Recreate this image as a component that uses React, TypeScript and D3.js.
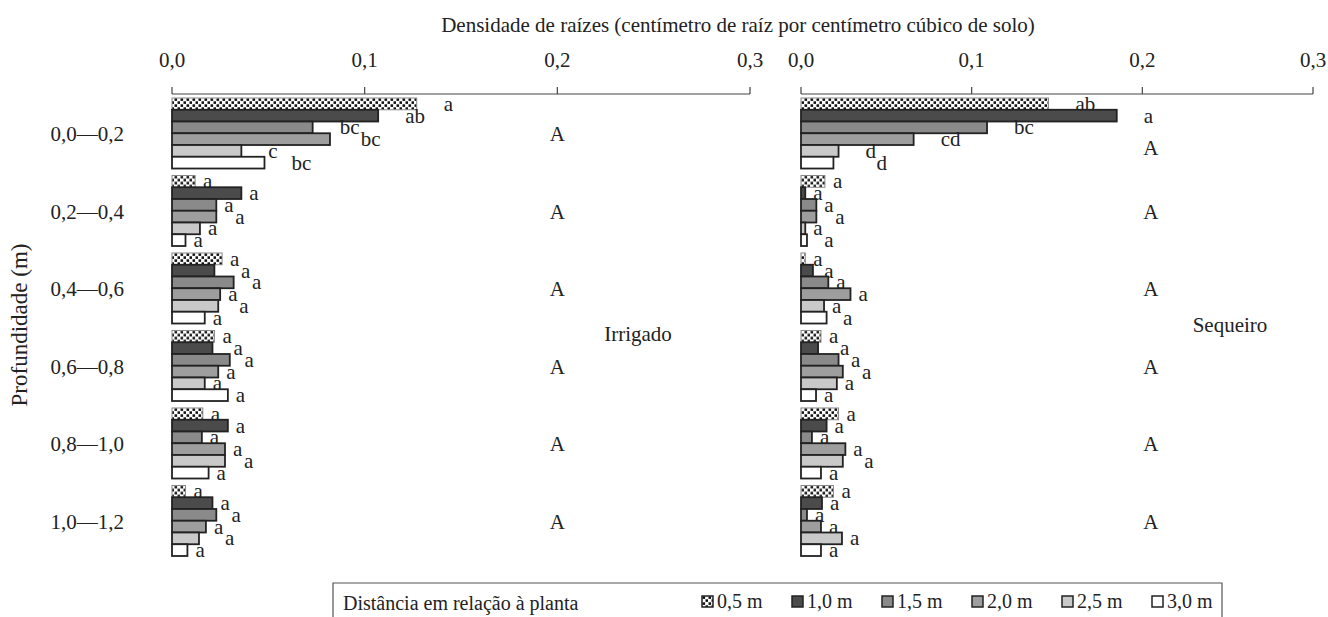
import * as d3 from "d3";
import React from "react";

const depths = ["0,0—0,2", "0,2—0,4", "0,4—0,6", "0,6—0,8", "0,8—1,0", "1,0—1,2"];
const distances = ["0,5 m", "1,0 m", "1,5 m", "2,0 m", "2,5 m", "3,0 m"];
const xTicks = [0, 0.1, 0.2, 0.3];

// rows = depth, columns = distance from plant
const irrigado = [
  [0.127, 0.107, 0.073, 0.082, 0.036, 0.048],
  [0.012, 0.036, 0.023, 0.023, 0.0145, 0.007],
  [0.026, 0.022, 0.032, 0.025, 0.024, 0.017],
  [0.022, 0.021, 0.030, 0.024, 0.017, 0.029],
  [0.016, 0.029, 0.0155, 0.0275, 0.0275, 0.019],
  [0.007, 0.021, 0.023, 0.0176, 0.014, 0.008],
];
const sequeiro = [
  [0.145, 0.185, 0.109, 0.066, 0.022, 0.019],
  [0.014, 0.0025, 0.009, 0.009, 0.0025, 0.0035],
  [0.0025, 0.007, 0.016, 0.029, 0.0135, 0.015],
  [0.0117, 0.010, 0.022, 0.0245, 0.021, 0.0088],
  [0.022, 0.015, 0.0064, 0.026, 0.0245, 0.0117],
  [0.019, 0.0123, 0.0035, 0.0117, 0.024, 0.0117],
];
const irrigadoLetters = [
  ["a", "ab", "bc", "bc", "c", "bc"],
  ["a", "a", "a", "a", "a", "a"],
  ["a", "a", "a", "a", "a", "a"],
  ["a", "a", "a", "a", "a", "a"],
  ["a", "a", "a", "a", "a", "a"],
  ["a", "a", "a", "a", "a", "a"],
];
const sequeiroLetters = [
  ["ab", "a", "bc", "cd", "d", "d"],
  ["a", "a", "a", "a", "a", "a"],
  ["a", "a", "a", "a", "a", "a"],
  ["a", "a", "a", "a", "a", "a"],
  ["a", "a", "a", "a", "a", "a"],
  ["a", "a", "a", "a", "a", "a"],
];
const depthLetters = ["A", "A", "A", "A", "A", "A"];

const fills = ["url(#dots)", "#4b4b4b", "#8a8a8a", "#9e9e9e", "#c9c9c9", "#ffffff"];
const FONT = "'Liberation Serif', 'Times New Roman', serif";
const FS = 21;

const yBand = d3.scaleBand<string>().domain(depths).range([98, 556]).paddingInner(0.09);
const yInner = d3.scaleBand<string>().domain(distances).range([0, yBand.bandwidth()]);

// rough width of a letter label, so stacked labels can be staggered
const labelWidth = (s: string) => s.length * 10 + 1;

interface PanelProps {
  values: number[][]
  letters: string[][]
  x0: number
  x1: number
  name: string
  nameX: number
  nameY: number
  bigX: number
  firstBigDy: number
}

const Panel: React.FC<PanelProps> = ({ values, letters, x0, x1, name, nameX, nameY, bigX, firstBigDy }) => {
  const x = d3.scaleLinear().domain([0, 0.3]).range([x0, x1]);
  const axisY = 94;
  return (
    <g>
      <line x1={x(0)} x2={x(0.3)} y1={axisY} y2={axisY} stroke="#444" strokeWidth={1.2} />
      {xTicks.map(t => (
        <g key={t}>
          <line x1={x(t)} x2={x(t)} y1={axisY} y2={axisY - 7} stroke="#444" strokeWidth={1.2} />
          <text x={x(t)} y={67} textAnchor="middle" fontSize={FS}>{d3.format(".1f")(t).replace(".", ",")}</text>
        </g>
      ))}
      {depths.map((dep, gi) => {
        // stagger labels so that neighbours don't sit on top of each other
        const lx: number[] = [];
        distances.forEach((_, i) => {
          let cx = x(values[gi][i]) + (gi === 0 ? 27 : 8);
          if (i > 0) {
            const prev = lx[i - 1];
            const w = labelWidth(letters[gi][i - 1]);
            const wc = labelWidth(letters[gi][i]);
            if (cx < prev + w && cx + wc > prev) cx = prev + w;
          }
          lx.push(cx);
        });
        return (
          <g key={dep} transform={`translate(0, ${yBand(dep)})`}>
            {distances.map((dist, i) => {
              const v = values[gi][i];
              const y = yInner(dist) as number;
              const h = yInner.bandwidth();
              return (
                <g key={dist}>
                  <rect
                    x={x(0)}
                    y={y}
                    width={x(v) - x(0)}
                    height={h}
                    fill={fills[i]}
                    stroke={i === 0 ? "#888" : "#222"}
                    strokeWidth={i === 0 ? 1 : 1.8}
                  />
                  <text x={lx[i]} y={y + h / 2 + 7} fontSize={FS}>{letters[gi][i]}</text>
                </g>
              );
            })}
            <text x={x(bigX)} y={yBand.bandwidth() / 2 + 8 + (gi === 0 ? firstBigDy : 0)} textAnchor="middle" fontSize={FS}>
              {depthLetters[gi]}
            </text>
          </g>
        );
      })}
      <text x={nameX} y={nameY} textAnchor="middle" fontSize={FS}>{name}</text>
    </g>
  );
};

const App: React.FC = () => {
  const legendX = d3.scaleLinear().domain([0, 5]).range([702, 1152]);
  return (
    <svg
      width={1328}
      height={617}
      style={{ position: "absolute", left: 0, top: 0, background: "#fff" }}
      fontFamily={FONT}
      fill="#222"
    >
      <defs>
        <pattern id="dots" width={6} height={6} patternUnits="userSpaceOnUse">
          <rect width={6} height={6} fill="#fff" />
          <rect x={0.5} y={0.3} width={2.6} height={2.6} fill="#111" />
          <rect x={3.5} y={3.3} width={2.6} height={2.6} fill="#111" />
        </pattern>
      </defs>
      <text x={738} y={32} textAnchor="middle" fontSize={FS}>
        Densidade de raízes (centímetro de raíz por centímetro cúbico de solo)
      </text>
      <text transform="translate(27, 325) rotate(-90)" textAnchor="middle" fontSize={23}>Profundidade (m)</text>
      {depths.map(dep => (
        <text key={dep} x={124} y={(yBand(dep) as number) + yBand.bandwidth() / 2 + 8} textAnchor="end" fontSize={FS}>
          {dep}
        </text>
      ))}
      <Panel values={irrigado} letters={irrigadoLetters} x0={172} x1={750} name="Irrigado" nameX={638} nameY={341} bigX={0.2} firstBigDy={0} />
      <Panel values={sequeiro} letters={sequeiroLetters} x0={801} x1={1313} name="Sequeiro" nameX={1230} nameY={332} bigX={0.205} firstBigDy={14} />
      <path d="M333,617 V583 H1222 V617" fill="none" stroke="#555" strokeWidth={1.2} />
      <text x={343} y={610} fontSize={20}>Distância em relação à planta</text>
      {distances.map((d, i) => (
        <g key={d} transform={`translate(${legendX(i)}, 596)`}>
          <rect x={0} y={0} width={11} height={11} fill={fills[i]} stroke="#222" strokeWidth={1.5} />
          <text x={15} y={12} fontSize={20}>{d}</text>
        </g>
      ))}
    </svg>
  );
};

export default App;
